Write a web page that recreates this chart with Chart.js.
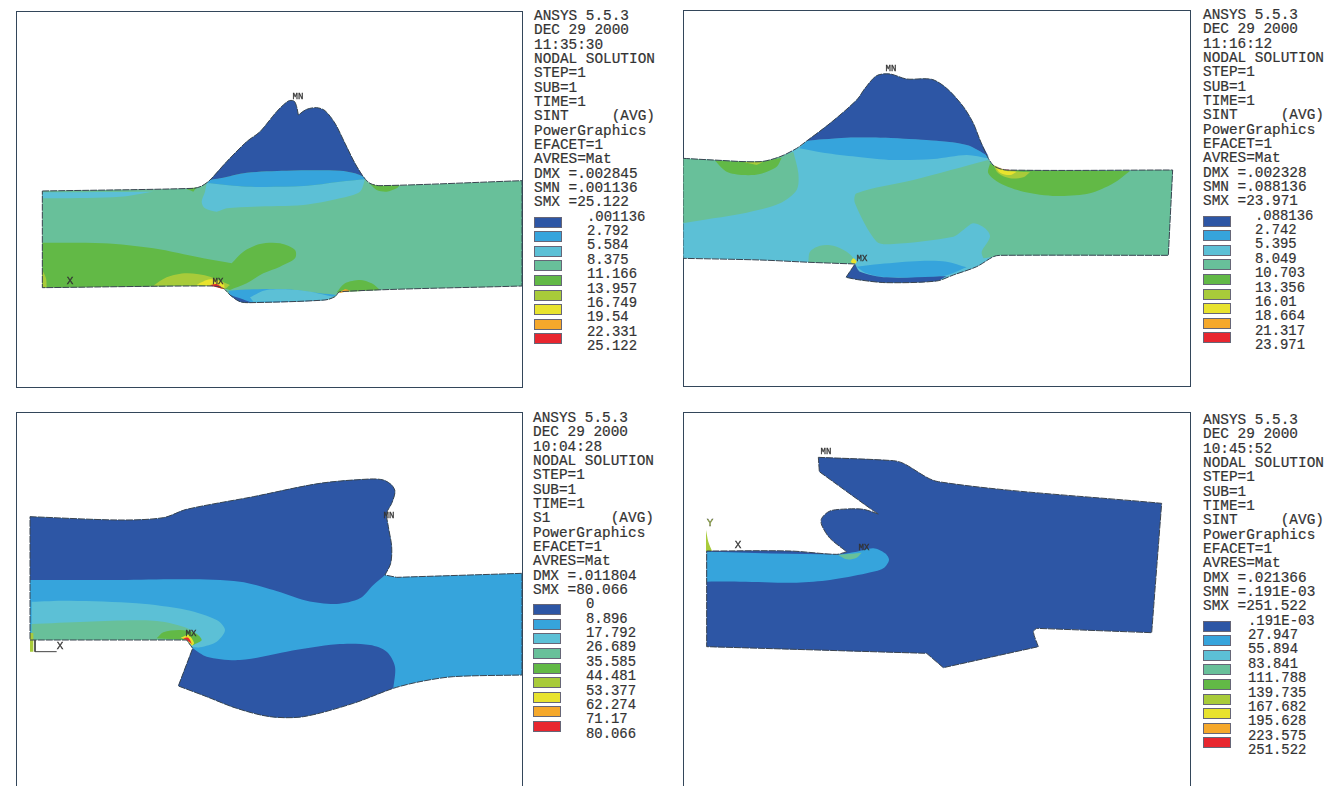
<!DOCTYPE html>
<html>
<head>
<meta charset="utf-8">
<title>ANSYS nodal solution plots</title>
<script src="https://cdn.jsdelivr.net/npm/chart.js@4/dist/chart.umd.js"></script>
<style>
  html, body { margin: 0; padding: 0; background: #fff; overflow: hidden; width: 1326px; height: 786px; }
  .frame { position: absolute; border: 1px solid #33465a; box-sizing: border-box; }
  canvas { position: absolute; }
  .info { position: absolute; font: 14.4px/14.4px "Liberation Mono", monospace; color: #333; white-space: pre; -webkit-text-stroke: 0.2px #333; }
  .legend-label { position: absolute; font: 13.9px/14.4px "Liberation Mono", monospace; color: #333; white-space: pre; -webkit-text-stroke: 0.2px #333; }
  .swatch { position: absolute; width: 28px; height: 11px; border: 1px solid #667; box-sizing: border-box; }
  .tag { position: absolute; font: 9px/9px "Liberation Mono", monospace; color: #333; transform: translate(-50%, -50%); -webkit-text-stroke: 0.3px #333; }
</style>
</head>
<body>
<script>
const NAVY = '#2d56a5', BLUE = '#36a4dc', CYAN = '#5cc0d6', TEAL = '#68c09a', GREEN = '#62b946';
const LIME = '#a8cb3a', YELLOW = '#e8e32e', ORANGE = '#f5a82b', RED = '#e8262f';
const legendColors = [NAVY, BLUE, CYAN, TEAL, GREEN, LIME, YELLOW, ORANGE, RED];

// header text
const header1 = ['ANSYS 5.5.3', 'DEC 29 2000', '11:35:30', 'NODAL SOLUTION', 'STEP=1', 'SUB=1', 'TIME=1', 'SINT     (AVG)', 'PowerGraphics', 'EFACET=1', 'AVRES=Mat', 'DMX =.002845', 'SMN =.001136', 'SMX =25.122'];
const header2 = ['ANSYS 5.5.3', 'DEC 29 2000', '11:16:12', 'NODAL SOLUTION', 'STEP=1', 'SUB=1', 'TIME=1', 'SINT     (AVG)', 'PowerGraphics', 'EFACET=1', 'AVRES=Mat', 'DMX =.002328', 'SMN =.088136', 'SMX =23.971'];
const header3 = ['ANSYS 5.5.3', 'DEC 29 2000', '10:04:28', 'NODAL SOLUTION', 'STEP=1', 'SUB=1', 'TIME=1', 'S1       (AVG)', 'PowerGraphics', 'EFACET=1', 'AVRES=Mat', 'DMX =.011804', 'SMX =80.066'];
const header4 = ['ANSYS 5.5.3', 'DEC 29 2000', '10:45:52', 'NODAL SOLUTION', 'STEP=1', 'SUB=1', 'TIME=1', 'SINT     (AVG)', 'PowerGraphics', 'EFACET=1', 'AVRES=Mat', 'DMX =.021366', 'SMN =.191E-03', 'SMX =251.522'];

// contour levels
const levels1 = ['.001136', '2.792', '5.584', '8.375', '11.166', '13.957', '16.749', '19.54', '22.331', '25.122'];
const levels2 = ['.088136', '2.742', '5.395', '8.049', '10.703', '13.356', '16.01', '18.664', '21.317', '23.971'];
const levels3 = ['0', '8.896', '17.792', '26.689', '35.585', '44.481', '53.377', '62.274', '71.17', '80.066'];
const levels4 = ['.191E-03', '27.947', '55.894', '83.841', '111.788', '139.735', '167.682', '195.628', '223.575', '251.522'];

// contour points are [x, y] or [x, y, 1] for a sharp corner

// panel 1 contours
const p1Outline = [[67,333,1],[520,325],[545,318],[570,300],[620,245],[680,185],[720,155],[770,95],[805,63],[822,63],[830,80],[835,105,1],[860,88],[890,83],[915,92],[945,130],[975,190],[1005,250],[1030,290],[1050,310],[1080,317],[1506,302,1],[1506,618,1],[960,635],[945,650],[915,660],[690,668],[660,665],[630,645],[610,625],[580,618],[67,623,1]];
const p1Navy = [[570,300,1],[620,245],[680,185],[720,155],[770,95],[805,63],[822,63],[830,80],[835,105,1],[860,88],[890,83],[915,92],[945,130],[975,190],[1005,250],[1030,290,1],[1005,280],[960,272],[800,272],[680,278],[600,295]];
const p1Blue = [[570,300,1],[600,295],[680,278],[800,272],[960,272],[1005,280],[1032,292],[1035,298,1],[960,305],[850,318],[680,320],[570,310],[562,308,1]];
const p1Cyan = [[560,308,1],[680,320],[850,318],[960,305],[1035,298,1],[1020,335],[960,355],[850,375],[700,380],[620,385],[590,395],[555,385],[545,365],[555,335]];
const p1CyanStrip = [[67,337,1],[400,335,1],[300,350],[100,355],[67,355,1]];
const p1Green = [[67,488,1],[250,490],[400,505],[550,535],[635,550,1],[670,515],[720,492],[780,490],[825,510],[825,535],[780,560],[730,580],[680,610],[630,630,1],[610,625],[580,618],[67,623,1]];
const p1Lime = [[400,617,1],[440,592],[500,580],[570,590],[630,615,1],[612,627],[580,618]];
const p1Yellow = [[530,614,1],[570,598],[610,610],[614,628,1],[580,618]];
const p1Red = [[568,616,1],[590,612],[612,628,1]];
const p1LeftLime = [[67,570,1],[78,595],[80,622,1],[67,623,1]];
const p1GreenBump = [[950,637,1],[975,610],[1020,600],[1055,610],[1080,630,1]];
const p1Orange = [[955,640,1],[975,628],[990,632,1]];
const p1GreenTop = [[1050,312,1],[1080,317],[1140,315,1],[1130,325],[1100,335],[1070,330]];
const p1GreenWeld = [[500,327,1],[530,322,1],[520,335,1]];
const p1BottomBlue = [[625,632,1],[700,628],[800,628],[900,640],[950,645,1],[915,660],[690,668],[660,665],[630,645]];
const p1BottomCyan = [[690,652,1],[740,630],[850,632],[940,650,1],[915,660],[700,665,1]];
const p1BottomNavy = [[630,645,1],[660,655],[695,668,1],[660,665]];

// panel 2 contours
const p2Outline = [[9,295,1],[100,300],[240,305],[300,290],[350,265],[380,243],[450,190],[530,120],[555,85],[590,47],[630,42],[680,57],[755,58],[800,85],[850,140],[880,190],[900,240],[925,295],[945,320],[980,330],[1478,330,1],[1465,586,1],[960,586],[940,590],[890,620],[820,645],[770,663],[620,668],[540,660],[498,652,1],[525,612,1],[390,607],[240,600],[9,595,1]];
const p2TealLeft = [[9,295,1],[100,300],[240,305],[300,290],[340,275,1],[355,340],[350,390],[300,430],[200,458],[100,475],[9,490,1]];
const p2GreenLeft = [[105,302,1],[240,305],[305,293,1],[290,320],[240,342],[190,345],[140,335]];
const p2LimeLeft = [[190,306,1],[250,305,1],[230,315,1]];
const p2TealRight = [[925,300,1],[945,320],[980,330],[1478,330,1],[1465,586,1],[960,586],[940,590],[910,595,1],[905,575],[930,530],[915,505],[880,490],[850,510],[820,530],[640,552],[590,545],[525,430],[530,400],[700,360]];
const p2GreenRight = [[930,310,1],[945,320],[980,330],[1350,333,1],[1300,370],[1230,400],[1130,408],[1030,395],[960,370],[925,340]];
const p2LimeRight = [[940,315,1],[975,330],[1050,337,1],[1030,352],[990,355],[955,340]];
const p2YellowRight = [[945,318,1],[975,332],[1010,335,1],[990,345],[960,338]];
const p2RedRight = [[945,318,1],[980,330],[1010,332,1],[975,328]];
const p2TealBottom = [[385,605,1],[390,575],[420,557],[460,557],[500,575],[525,600],[525,612,1],[390,607]];
const p2YellowTip = [[512,605],[520,595],[530,605],[522,612]];
const p2Navy = [[380,243,1],[450,190],[530,120],[555,85],[590,47],[630,42],[680,57],[755,58],[800,85],[850,140],[880,190],[900,240],[925,288,1],[860,255],[740,240],[600,233],[500,233],[430,238]];
const p2Blue = [[380,243,1],[430,238],[500,233],[600,233],[740,240],[860,255],[925,288,1],[925,295,1],[860,285],[760,297],[640,300],[530,290],[430,278],[358,265,1]];
const p2NavyBottom = [[498,652,1],[525,612,1],[540,635],[620,652],[760,650],[800,648,1],[770,663],[620,668],[540,660]];
const p2BlueBottom = [[530,620,1],[600,612],[720,603],[800,605],[860,622,1],[790,648],[620,652],[560,640]];

// panel 3 contours
const p3Outline = [[30,140,1],[300,150],[430,143],[500,118],[700,80],[900,40],[1050,27],[1090,30],[1115,45],[1125,65],[1115,100],[1100,130],[1105,170],[1115,230],[1112,280],[1095,315,1],[1130,322,1],[1506,310,1],[1506,615,1],[1300,620],[1200,635],[1120,655],[1000,700],[850,740],[750,740],[650,715],[560,680],[475,648,1],[518,535,1],[500,510,1],[30,510,1]];
const p3NavyTop = [[30,140,1],[300,150],[430,143],[500,118],[700,80],[900,40],[1050,27],[1090,30],[1115,45],[1125,65],[1115,100],[1100,130],[1105,170],[1115,230],[1112,280],[1095,315,1],[1060,345],[1020,385],[950,402],[860,392],[760,360],[660,335],[500,328],[300,330],[30,330,1]];
const p3NavyBottom = [[475,648,1],[518,535,1],[560,560],[660,570],[800,545],[950,523],[1050,525],[1100,545],[1125,590],[1120,655,1],[1000,700],[850,740],[750,740],[650,715],[560,680]];
const p3Cyan = [[35,395,1],[150,392],[350,400],[500,420],[590,450],[615,480],[590,515],[540,532],[518,532,1],[500,510,1],[35,510,1]];
const p3Teal = [[35,462,1],[200,455],[400,452],[490,470],[540,500],[520,525,1],[500,510,1],[35,510,1]];
const p3Green = [[410,505,1],[430,487],[480,480],[525,490],[545,510],[520,525,1],[500,510,1]];
const p3Yellow = [[482,503,1],[505,495],[522,518],[516,528,1],[500,510,1]];
const p3Red = [[488,505,1],[505,503],[516,522,1],[500,510,1]];
const p3LeftLime = [[30,488,1],[40,490,1],[40,545,1],[30,545,1]];
const p3Triad = [[45,510],[45,545],[110,545]];

// panel 4 contours
const p4Outline = [[385,52,1],[610,62],[640,70],[745,125],[1415,190,1],[1385,578,1],[1040,565,1],[1030,575],[1045,620,1],[760,683,1],[710,640,1],[50,620,1],[50,333,1],[300,333],[440,343],[470,335,1],[420,295],[395,255],[395,235],[420,213],[470,207],[520,208],[565,222,1],[540,205],[388,95,1]];
const p4Blue = [[50,335,1],[440,343],[500,335],[550,325],[585,340],[597,360],[580,385],[530,400],[420,420],[320,428],[150,425],[50,425,1]];
const p4Teal = [[445,345,1],[500,340],[515,338,1],[500,353],[470,358]];
const p4Spike = [[48,270,1],[55,305],[66,333,1],[48,333,1]];

// [points, colour]
const layers1 = [[p1Outline, TEAL], [p1CyanStrip, CYAN], [p1Cyan, CYAN], [p1Blue, BLUE], [p1Navy, NAVY], [p1Green, GREEN], [p1Lime, LIME], [p1Yellow, YELLOW], [p1Red, RED], [p1LeftLime, LIME], [p1GreenBump, GREEN], [p1Orange, ORANGE], [p1GreenTop, GREEN], [p1GreenWeld, GREEN], [p1BottomBlue, BLUE], [p1BottomCyan, CYAN], [p1BottomNavy, NAVY]];
const layers2 = [[p2Outline, CYAN], [p2TealLeft, TEAL], [p2GreenLeft, GREEN], [p2LimeLeft, LIME], [p2TealRight, TEAL], [p2GreenRight, GREEN], [p2LimeRight, LIME], [p2YellowRight, YELLOW], [p2RedRight, RED], [p2TealBottom, TEAL], [p2YellowTip, YELLOW], [p2Blue, BLUE], [p2Navy, NAVY], [p2BlueBottom, BLUE], [p2NavyBottom, NAVY]];
const layers3 = [[p3Outline, BLUE], [p3NavyTop, NAVY], [p3NavyBottom, NAVY], [p3Cyan, CYAN], [p3Teal, TEAL], [p3Green, GREEN], [p3Yellow, YELLOW], [p3Red, RED], [p3LeftLime, LIME]];
const layers4 = [[p4Outline, NAVY], [p4Blue, BLUE], [p4Teal, TEAL], [p4Spike, LIME]];

// tags next to nodes, page position
const tags1 = [['MN', 298, 97], ['MX', 218, 282], ['X', 70, 281]];
const tags2 = [['MN', 891, 69], ['MX', 862, 259]];
const tags3 = [['MN', 389, 516], ['MX', 191, 634], ['X', 60, 646]];
const tags4 = [['MN', 826, 452], ['MX', 864, 548], ['X', 738, 545], ['Y', 710, 523]];

function addEl(tag, className, style, text) {
  const el = document.createElement(tag);
  el.className = className;
  Object.assign(el.style, style);
  if (text !== undefined) el.textContent = text;
  document.body.appendChild(el);
  return el;
}

// a doubled point keeps the spline sharp there
function toPoints(list, close) {
  const pts = [];
  list.forEach(p => {
    pts.push({ x: p[0], y: p[1] });
    if (p[2]) pts.push({ x: p[0], y: p[1] });
  });
  if (close) pts.push({ x: list[0][0], y: list[0][1] });
  return pts;
}

function drawPanel(p) {
  addEl('div', 'frame', { left: p.left + 'px', top: p.top + 'px', width: p.width + 'px', height: p.frameHeight + 'px' });
  const canvas = addEl('canvas', '', { left: p.left + 'px', top: p.top + 'px' });
  canvas.width = p.width;
  canvas.height = p.height;

  const datasets = p.layers.map((layer, i) => ({
    data: toPoints(layer[0], true),
    backgroundColor: layer[1],
    borderWidth: 0,
    fill: 'shape',
    tension: 0.3,
    pointRadius: 0,
    showLine: true,
    order: 1000 - i
  }));
  // outline goes on top of all contours
  datasets.push({
    data: toPoints(p.outline, true),
    borderColor: '#3a4450',
    borderWidth: 1,
    borderDash: [7, 1],
    fill: false,
    tension: 0.3,
    pointRadius: 0,
    showLine: true,
    order: 1
  });
  if (p.triad) {
    datasets.push({ data: toPoints(p.triad, false), borderColor: '#444', borderWidth: 1, fill: false, pointRadius: 0, showLine: true, order: 0 });
  }

  new Chart(canvas.getContext('2d'), {
    type: 'scatter',
    data: { datasets },
    options: {
      responsive: false,
      animation: false,
      events: [],
      layout: { padding: 0 },
      plugins: { legend: { display: false }, tooltip: { enabled: false } },
      scales: {
        x: { type: 'linear', display: false, min: p.xRange[0], max: p.xRange[1] },
        y: { type: 'linear', display: false, reverse: true, min: p.yRange[0], max: p.yRange[1] }
      }
    }
  });

  p.header.forEach((line, i) => {
    addEl('div', 'info', { left: p.textX + 'px', top: (p.textY + i * 14.33 - 6) + 'px' }, line);
  });
  const legendY = p.textY + p.header.length * 14.33;
  p.levels.forEach((label, i) => {
    addEl('div', 'legend-label', { left: p.labelX + 'px', top: (legendY + i * 14.4 - 6) + 'px' }, label);
  });
  legendColors.forEach((color, i) => {
    addEl('div', 'swatch', { left: p.textX + 'px', top: (legendY + i * 14.6 + 1) + 'px', background: color });
  });
  p.tags.forEach(t => {
    addEl('div', 'tag', { left: t[1] + 'px', top: t[2] + 'px', color: t[0] === 'Y' ? '#a8cb3a' : '#333', fontSize: t[0].length === 1 ? '11px' : '9px' }, t[0]);
  });
}

drawPanel({ left: 16, top: 11, width: 507, height: 377, frameHeight: 377, xRange: [-12, 1509], yRange: [-207, 924], layers: layers1, outline: p1Outline, header: header1, levels: levels1, tags: tags1, textX: 534, labelX: 587, textY: 15 });
drawPanel({ left: 683, top: 10, width: 508, height: 377, frameHeight: 377, xRange: [9, 1533], yRange: [-150, 981], layers: layers2, outline: p2Outline, header: header2, levels: levels2, tags: tags2, textX: 1203, labelX: 1255, textY: 14 });
drawPanel({ left: 16, top: 412, width: 507, height: 374, frameHeight: 400, xRange: [-12, 1509], yRange: [-174, 948], layers: layers3, outline: p3Outline, triad: p3Triad, header: header3, levels: levels3, tags: tags3, textX: 533, labelX: 586, textY: 417 });
drawPanel({ left: 683, top: 412, width: 508, height: 374, frameHeight: 400, xRange: [-21, 1503], yRange: [-84, 1038], layers: layers4, outline: p4Outline, header: header4, levels: levels4, tags: tags4, textX: 1203, labelX: 1248, textY: 419 });
</script>
</body>
</html>
